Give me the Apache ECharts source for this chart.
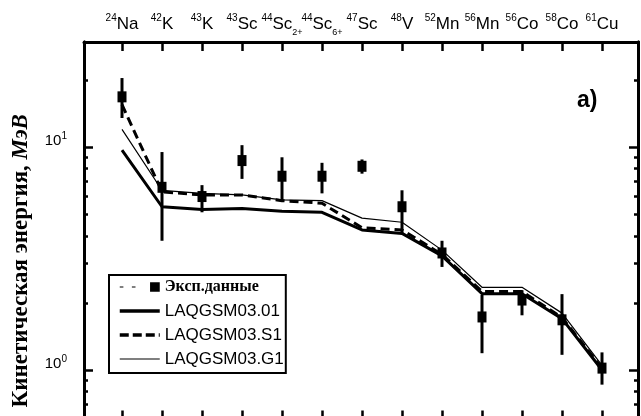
<!DOCTYPE html>
<html><head><meta charset="utf-8">
<script src="https://cdn.jsdelivr.net/npm/echarts@6/dist/echarts.min.js"></script>
<style>html,body{margin:0;padding:0;background:#fff}#c{width:641px;height:416px}</style>
</head><body><div id="c"></div>
<script>
// ---- data ----
const massNumbers = ['24','42','43','43','44','44','47','48','52','56','56','58','61'];
const elements    = ['Na','K','K','Sc','Sc','Sc','Sc','V','Mn','Mn','Co','Co','Cu'];
const chargeSubs  = ['','','','','2+','6+','','','','','','',''];

const expValues = [16.8, 6.6, 6.0, 8.7, 7.4, 7.4, 8.2, 5.4, 3.35, 1.73, 2.06, 1.68, 1.02];
const expLow    = [13.5, 3.8, 5.1, 7.2, 5.7, 6.2, 7.6, 4.1, 2.9, 1.19, 1.76, 1.17, 0.86];
const expHigh   = [20.4, 9.5, 6.75, 10.2, 9.0, 8.5, 8.8, 6.4, 3.8, 2.17, 2.28, 2.19, 1.2];

const laqgsm01 = [9.7, 5.4, 5.25, 5.3, 5.15, 5.1, 4.25, 4.1, 3.25, 2.2, 2.2, 1.7, 1.0];
const laqgsmS1 = [15.5, 6.3, 6.1, 6.1, 5.75, 5.6, 4.35, 4.25, 3.3, 2.25, 2.25, 1.72, 1.02];
const laqgsmG1 = [12.0, 6.4, 6.2, 6.1, 5.8, 5.75, 4.8, 4.6, 3.45, 2.35, 2.35, 1.8, 1.05];

const yMajorTicks = [1, 10];
const yMinorTicks = [0.6, 0.7, 0.8, 0.9, 2, 3, 4, 5, 6, 7, 8, 9, 20];

const seriesNames = ['Эксп.данные', 'LAQGSM03.01', 'LAQGSM03.S1', 'LAQGSM03.G1'];
// ---------------

const idx = massNumbers.map((_, i) => i);
const pts = arr => arr.map((v, i) => [i, v]);

const xMin = -0.95, xMax = 12.9, yMin = 0.6, yMax = 29.6;
const sans = '"Liberation Sans", Arial, sans-serif';
const serif = '"Liberation Serif", "Times New Roman", serif';

function xAxisCfg(pos, withLabels) {
  return {
    type: 'value', position: pos, min: xMin, max: xMax,
    splitLine: { show: false },
    axisLine: { show: true, onZero: false, lineStyle: { color: '#000', width: 3 } },
    axisTick: { show: true, inside: true, length: 9, customValues: idx, lineStyle: { color: '#000', width: 2.5 } },
    axisLabel: withLabels ? {
      show: true, margin: 9, customValues: idx,
      formatter: v => {
        const i = Math.round(v);
        return '{sup|' + massNumbers[i] + '}{el|' + elements[i] + '}' + (chargeSubs[i] ? '{sub|' + chargeSubs[i] + '}' : '');
      },
      rich: {
        el: { fontFamily: sans, fontSize: 17, color: '#000', lineHeight: 20, verticalAlign: 'bottom' },
        sup: { fontFamily: sans, fontSize: 10, color: '#000', lineHeight: 10, verticalAlign: 'top' },
        sub: { fontFamily: sans, fontSize: 9, color: '#000', lineHeight: 9, verticalAlign: 'bottom', padding: [0, 0, -4, 0] }
      }
    } : { show: false }
  };
}

function yAxisCfg(pos, ticks, len, withLabels) {
  return {
    type: 'log', logBase: 10, position: pos, min: yMin, max: yMax,
    splitLine: { show: false }, minorTick: { show: false },
    axisLine: { show: true, onZero: false, lineStyle: { color: '#000', width: 3 } },
    axisTick: { show: true, inside: true, length: len, customValues: ticks, lineStyle: { color: '#000', width: 2.5 } },
    axisLabel: withLabels ? {
      show: true, margin: 17, customValues: yMajorTicks,
      padding: [0, 0, 14, 0],
      formatter: v => '{b|10}{s|' + Math.round(Math.log10(v)) + '}',
      rich: {
        b: { fontFamily: sans, fontSize: 15, color: '#000', lineHeight: 17, verticalAlign: 'bottom' },
        s: { fontFamily: sans, fontSize: 10, color: '#000', lineHeight: 10, verticalAlign: 'top' }
      }
    } : { show: false }
  };
}

const yLeft = yAxisCfg('left', yMajorTicks, 9, true);
yLeft.name = '{a|Кинетическая энергия, }{b|МэВ}';
yLeft.nameLocation = 'middle';
yLeft.nameGap = 51;
yLeft.nameTextStyle = {
  padding: [0, 60, 0, 0],
  rich: {
    a: { fontFamily: serif, fontWeight: 'bold', fontSize: 23, color: '#000' },
    b: { fontFamily: serif, fontWeight: 'bold', fontStyle: 'italic', fontSize: 23, color: '#000' }
  }
};

const hiddenDot = { color: 'rgba(0,0,0,0)', borderWidth: 0, opacity: 0 };

const option = {
  animation: false,
  backgroundColor: '#fff',
  grid: { left: 84, right: 3, top: 42, height: 377.5, containLabel: false, outerBoundsMode: 'none' },
  title: { text: 'a)', left: 572, top: 84, textStyle: { fontFamily: sans, fontWeight: 'bold', fontSize: 23, color: '#000' } },
  xAxis: [xAxisCfg('top', true), xAxisCfg('bottom', false)],
  yAxis: [
    yLeft,
    yAxisCfg('left', yMinorTicks, 4, false),
    yAxisCfg('right', yMajorTicks, 9, false),
    yAxisCfg('right', yMinorTicks, 4, false)
  ],
  legend: {
    left: 109, top: 275, orient: 'vertical',
    padding: [3, 2, 5, 9],
    itemWidth: 40, itemHeight: 10, itemGap: 6,
    borderColor: '#000', borderWidth: 2, backgroundColor: '#fff',
    textStyle: { fontFamily: sans, fontSize: 17, color: '#000', lineHeight: 18,
      rich: { s: { fontFamily: serif, fontWeight: 'bold', fontSize: 16, color: '#000' } } },
    formatter: n => n === seriesNames[0] ? '{s|' + n + '}' : n,
    data: [
      { name: seriesNames[0], icon: 'path://M4,4.5h3v1h-3z M14,4.5h3v1h-3z M29,1h8v8h-8z', itemStyle: { color: '#000', opacity: 1 } },
      { name: seriesNames[1], itemStyle: hiddenDot, lineStyle: { color: '#000', width: 3.5 } },
      { name: seriesNames[2], itemStyle: hiddenDot, lineStyle: { color: '#000', width: 3.5, type: [9, 4] } },
      { name: seriesNames[3], itemStyle: hiddenDot, lineStyle: { color: '#000', width: 1.2 } }
    ]
  },
  series: [
    {
      type: 'custom', xAxisIndex: 0, yAxisIndex: 0, silent: true, z: 3,
      data: idx.map(i => [i, expLow[i], expHigh[i]]),
      encode: { x: 0, y: [1, 2] },
      renderItem: (params, api) => {
        const x = api.value(0);
        const a = api.coord([x, api.value(1)]);
        const b = api.coord([x, api.value(2)]);
        return { type: 'line', shape: { x1: a[0], y1: a[1], x2: b[0], y2: b[1] }, style: { stroke: '#000', lineWidth: 3 } };
      }
    },
    {
      name: seriesNames[1], type: 'line', xAxisIndex: 0, yAxisIndex: 0, data: pts(laqgsm01),
      symbol: 'none', lineStyle: { color: '#000', width: 3 }, itemStyle: { color: '#000' }
    },
    {
      name: seriesNames[2], type: 'line', xAxisIndex: 0, yAxisIndex: 0, data: pts(laqgsmS1),
      symbol: 'none', lineStyle: { color: '#000', width: 3, type: [9, 5] }, itemStyle: { color: '#000' }
    },
    {
      name: seriesNames[3], type: 'line', xAxisIndex: 0, yAxisIndex: 0, data: pts(laqgsmG1),
      symbol: 'none', lineStyle: { color: '#000', width: 1.2 }, itemStyle: { color: '#000' }
    },
    {
      name: seriesNames[0], type: 'scatter', xAxisIndex: 0, yAxisIndex: 0, data: pts(expValues),
      symbol: 'rect', symbolSize: [9, 11], itemStyle: { color: '#000', opacity: 1 }, z: 4
    }
  ]
};

const chart = echarts.init(document.getElementById('c'), null, { renderer: 'canvas' });
chart.setOption(option);
</script>
</body></html>
